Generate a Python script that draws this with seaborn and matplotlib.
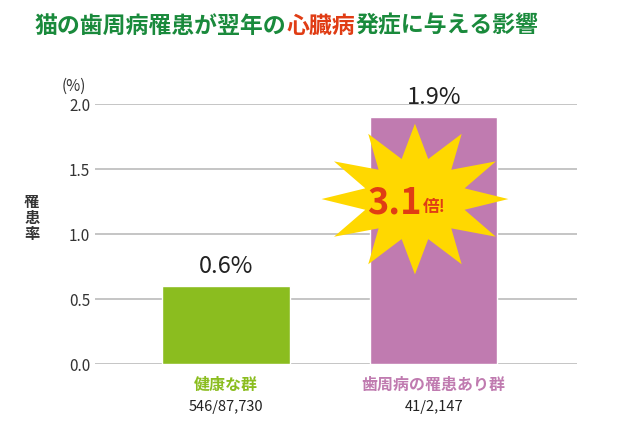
import numpy as np
import pandas as pd
import seaborn as sns
import matplotlib.pyplot as plt
from matplotlib.patches import Polygon

groups = ['健康な群', '歯周病の罹患あり群']
counts = ['546/87,730', '41/2,147']
rates = [0.6, 1.9]
bar_labels = ['0.6%', '1.9%']
colors = ['#8bbd1f', '#c07bb0']
label_colors = ['#8bbd1f', '#c07bb0']
title_parts = [('猫の歯周病罹患が翌年の', '#1a8a3c'), ('心臓病', '#e03c14'), ('発症に与える影響', '#1a8a3c')]

sns.set_style('white')
plt.rcParams['font.family'] = ['Noto Sans CJK JP', 'DejaVu Sans']

fig = plt.figure(figsize=(6.34, 4.36), dpi=100)
ax = fig.add_axes([0.15, 0.165, 0.76, 0.596])
df = pd.DataFrame({'group': groups, 'rate': rates})
sns.barplot(data=df, x='group', y='rate', hue='group', palette=colors,
            width=0.615, ax=ax, legend=False, saturation=1, zorder=2)
ax.set_ylim(0, 2.0)
ax.set_xlim(-0.63, 1.69)
ax.set_yticks([0, 0.5, 1.0, 1.5, 2.0])
ax.set_yticklabels(['0.0', '0.5', '1.0', '1.5', '2.0'], fontsize=11, color='#333333')
ax.grid(axis='y', color='#bbbbbb', lw=1.2, zorder=0)
ax.set_axisbelow(True)
for s in ax.spines.values():
    s.set_visible(False)
ax.tick_params(axis='both', length=0)
ax.set_xticks([])
ax.set_xlabel('')
ax.set_ylabel('')
ax.text(-0.045, 1.05, '(%)', transform=ax.transAxes, fontsize=11, color='#333333', ha='center')
fig.text(0.05, 0.5, '罹\n患\n率', fontsize=11, fontweight='bold', color='#333333',
         ha='center', va='center', linespacing=1.0)

for i, (r, t) in enumerate(zip(rates, bar_labels)):
    ax.text(i, r + 0.06, t, ha='center', va='bottom', fontsize=17, color='#222222')
    ax.text(i, -0.1, groups[i], ha='center', va='top', fontsize=11.5, fontweight='bold',
            color=label_colors[i], clip_on=False)
    ax.text(i, -0.28, counts[i], ha='center', va='top', fontsize=10.5, color='#222222', clip_on=False)

# starburst
n = 12
ang = np.linspace(0, 2 * np.pi, 2 * n, endpoint=False) + np.pi / 2
rad = np.where(np.arange(2 * n) % 2 == 0, 1.0, 0.55)
cx, cy, rx, ry = 0.91, 1.27, 0.45, 0.58
pts = np.column_stack([cx + rx * rad * np.cos(ang), cy + ry * rad * np.sin(ang)])
ax.add_patch(Polygon(pts, closed=True, facecolor='#ffd800', edgecolor='none', zorder=3))
ax.text(cx + 0.03, cy - 0.03, '3.1', ha='right', va='center', fontsize=26,
        fontweight='bold', color='#e03c14', zorder=4)
ax.text(cx + 0.04, cy - 0.06, '倍!', ha='left', va='center', fontsize=12,
        fontweight='bold', color='#e03c14', zorder=4)

# title, parts placed one after another
fig.canvas.draw()
r = fig.canvas.get_renderer()
x = 0.055
for txt, c in title_parts:
    t = fig.text(x, 0.94, txt, fontsize=16.5, fontweight='bold', color=c, va='center')
    bb = t.get_window_extent(renderer=r)
    x += bb.width / fig.bbox.width

fig.savefig('out.png', dpi=100)
